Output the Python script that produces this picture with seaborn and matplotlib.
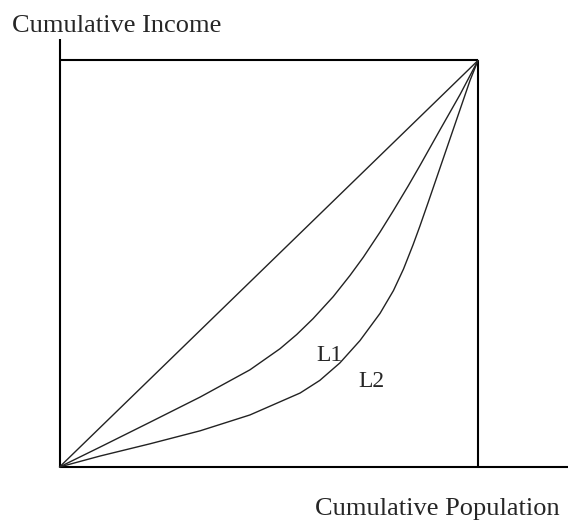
import matplotlib
matplotlib.use("Agg")
import matplotlib.pyplot as plt
import seaborn as sns

sns.set_style("white")
plt.rcParams["font.family"] = ["Liberation Serif", "DejaVu Serif"]

# Curvas de Lorenz (população acumulada, renda acumulada)
igualdade_pop = [0.0, 1.0]
igualdade_renda = [0.0, 1.0]

l1_pop = [0.0, 0.097, 0.216, 0.336, 0.455, 0.527, 0.567, 0.606, 0.654, 0.694, 0.726,
          0.766, 0.798, 0.833, 0.861, 0.909, 0.957, 1.0]
l1_renda = [0.0, 0.049, 0.110, 0.172, 0.239, 0.291, 0.326, 0.365, 0.419, 0.471, 0.516,
            0.578, 0.631, 0.691, 0.741, 0.829, 0.916, 1.0]

l2_pop = [0.0, 0.097, 0.216, 0.336, 0.455, 0.575, 0.622, 0.670, 0.718, 0.766, 0.798,
          0.822, 0.845, 0.861, 0.881, 0.905, 0.933, 0.965, 0.981, 1.0]
l2_renda = [0.0, 0.027, 0.057, 0.089, 0.128, 0.182, 0.213, 0.256, 0.311, 0.378, 0.434,
            0.487, 0.547, 0.592, 0.651, 0.723, 0.807, 0.903, 0.951, 1.0]

rotulos = ["L1", "L2"]
pos_rotulos = [(0.613, 0.2615), (0.714, 0.1975)]

fig = plt.figure(figsize=(5.68, 5.20), dpi=100)
ax = fig.add_axes([0, 0, 1, 1])

# Moldura: eixos e quadrado
cor_moldura = "black"
ax.plot([0, 0], [0, 1.053], color=cor_moldura, lw=1.5, solid_capstyle="butt")
ax.plot([0, 1.25], [0, 0], color=cor_moldura, lw=1.5, solid_capstyle="butt")
ax.plot([0, 1], [1, 1], color=cor_moldura, lw=1.5, solid_capstyle="butt")
ax.plot([1, 1], [0, 1], color=cor_moldura, lw=1.5, solid_capstyle="butt")

# Curvas
for xs, ys in [(igualdade_pop, igualdade_renda), (l1_pop, l1_renda), (l2_pop, l2_renda)]:
    sns.lineplot(x=xs, y=ys, color="#222222", lw=1.0, ax=ax)

for texto, (px, py) in zip(rotulos, pos_rotulos):
    ax.text(px, py, texto, fontsize=17, va="baseline", ha="left")

ax.set_xlim(-0.1422, 1.2151)
ax.set_ylim(-0.1304, 1.1488)
ax.axis("off")

fig.text(12 / 568, 1 - 32 / 520, "Cumulative Income", fontsize=19, va="baseline", ha="left")
fig.text(315 / 568, 5 / 520, "Cumulative Population", fontsize=19, va="baseline", ha="left")

fig.savefig("out.png", dpi=100)
plt.close(fig)
